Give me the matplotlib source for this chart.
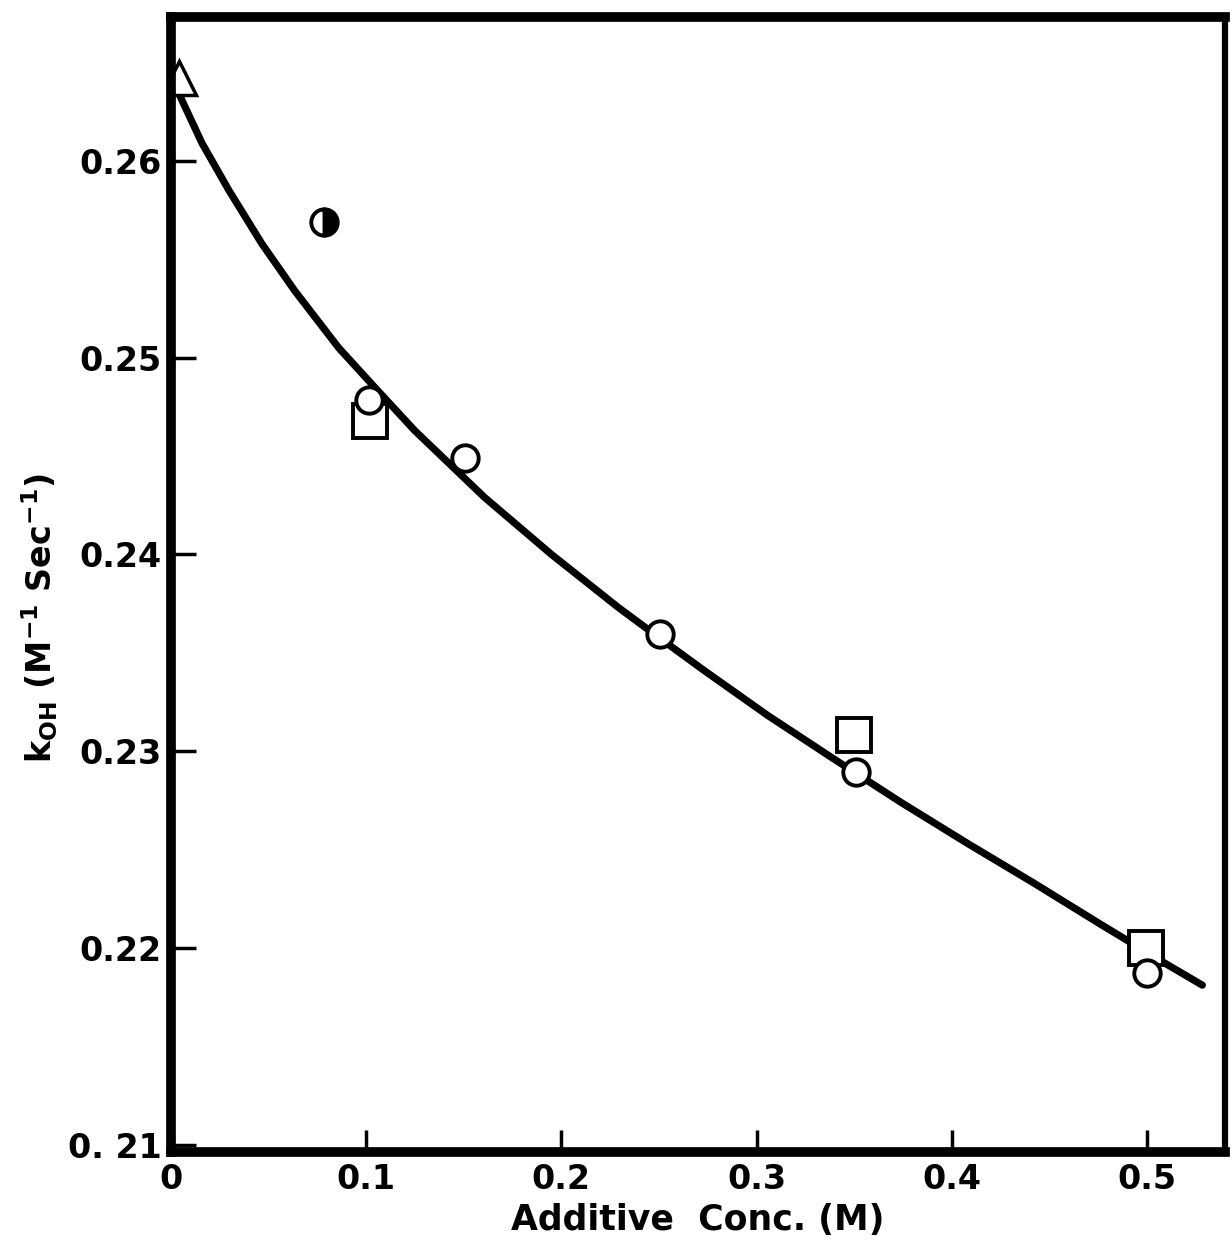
import matplotlib
matplotlib.use("Agg")
import matplotlib.pyplot as plt
from matplotlib.ticker import FixedLocator, FixedFormatter

plt.rcParams["font.family"] = ["DejaVu Sans"]
plt.rcParams["font.weight"] = "bold"
plt.rcParams["mathtext.fontset"] = "dejavusans"
plt.rcParams["mathtext.default"] = "bf"

# data
circle_x = [0.1013, 0.1504, 0.2504, 0.3509, 0.5003]
circle_y = [0.24785, 0.2449, 0.23595, 0.22894, 0.21872]

square_x = [0.1018, 0.3499, 0.4997]
square_y = [0.24678, 0.23082, 0.21999]

triangle_x = [0.004]
triangle_y = [0.2642]

half_x = [0.0783]
half_y = [0.2569]

# fitted curve as drawn on the figure
curve_x = [0.0046, 0.0159, 0.0297, 0.0465, 0.0634, 0.0859, 0.1043, 0.1248,
           0.1606, 0.1949, 0.2292, 0.2496, 0.2731, 0.3059, 0.3396, 0.3739,
           0.4082, 0.4419, 0.4762, 0.5095, 0.5284]
curve_y = [0.2633, 0.2609, 0.2585, 0.2558, 0.2534, 0.2505, 0.2485, 0.2463,
           0.2429, 0.2400, 0.2373, 0.2358, 0.2341, 0.2318, 0.2296, 0.2274,
           0.2253, 0.2233, 0.2212, 0.2192, 0.2181]

x_ticks = [0, 0.1, 0.2, 0.3, 0.4, 0.5]
x_labels = ["0", "0.1", "0.2", "0.3", "0.4", "0.5"]
y_ticks = [0.21, 0.22, 0.23, 0.24, 0.25, 0.26]
y_labels = ["0. 21", "0.22", "0.23", "0.24", "0.25", "0.26"]


def style_axes(ax):
    ax.set_xlim(0, 0.540)
    ax.set_ylim(0.20962, 0.26732)
    for side, lw in (("left", 7), ("top", 7), ("bottom", 7), ("right", 4.5)):
        ax.spines[side].set_linewidth(lw)
        ax.spines[side].set_zorder(10)
    ax.xaxis.set_major_locator(FixedLocator(x_ticks))
    ax.xaxis.set_major_formatter(FixedFormatter(x_labels))
    ax.yaxis.set_major_locator(FixedLocator(y_ticks))
    ax.yaxis.set_major_formatter(FixedFormatter(y_labels))
    ax.tick_params(axis="x", direction="in", length=16, width=2.5, pad=8,
                   labelsize=24)
    ax.tick_params(axis="y", direction="in", length=18, width=2.5, pad=7,
                   labelsize=24)


fig = plt.figure(figsize=(12.32, 12.47), dpi=100)
ax = fig.add_axes([0.1388, 0.0762, 0.8555, 0.9102])

ax.plot(curve_x, curve_y, color="black", lw=5.2, solid_capstyle="round",
        solid_joinstyle="round", zorder=2)

ax.plot(triangle_x, triangle_y, ls="none", marker="^", ms=24, mfc="white",
        mec="black", mew=2.5, zorder=3)
ax.plot(square_x, square_y, ls="none", marker="s", ms=24, mfc="white",
        mec="black", mew=2.8, zorder=4)
ax.plot(circle_x, circle_y, ls="none", marker="o", ms=19, mfc="white",
        mec="black", mew=2.8, zorder=5)
ax.plot(half_x, half_y, ls="none", marker="o", ms=19, fillstyle="right",
        mfc="black", mfcalt="white", mec="black", mew=2.8, zorder=5)

style_axes(ax)

ax.set_xlabel("Additive  Conc. (M)", fontsize=25, fontweight="bold", labelpad=5)
ax.set_ylabel(r"k$_{\mathbf{OH}}$ (M$^{\mathbf{-1}}$ Sec$^{\mathbf{-1}}$)",
              fontsize=24, fontweight="bold")
ax.yaxis.set_label_coords(-0.105, 0.47)

fig.savefig("out.png", dpi=100)
plt.close(fig)
